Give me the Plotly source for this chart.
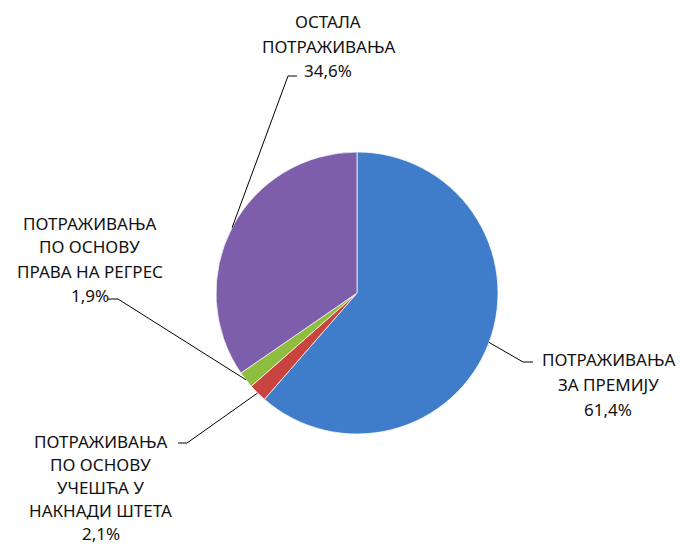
import math
import plotly.graph_objects as go

labels = [["ПОТРАЖИВАЊА", "ЗА ПРЕМИЈУ"],
          ["ПОТРАЖИВАЊА", "ПО ОСНОВУ", "УЧЕШЋА У", "НАКНАДИ ШТЕТА"],
          ["ПОТРАЖИВАЊА", "ПО ОСНОВУ", "ПРАВА НА РЕГРЕС"],
          ["ОСТАЛА", "ПОТРАЖИВАЊА"]]
values = [61.4, 2.1, 1.9, 34.6]
value_text = ["61,4%", "2,1%", "1,9%", "34,6%"]
colors = ["#3F7DCB", "#C9443E", "#8FBE3E", "#7D5EAA"]

W, H = 693, 546
cx, cy, r = 357, 293, 141

# label block centres (px), line gaps and leader-line elbow / tail (px)
label_pos = [(608, 384), (101, 487), (90, 259), (328, 46)]
line_gaps = [25, 23, 24, 24]
elbows = [((523, 362), (533, 362)),
          ((187, 443), (178, 443)),
          ((118, 299), (108, 299)),
          ((288, 76), (297, 76))]

fig = go.Figure()
fig.add_trace(go.Pie(
    labels=[" ".join(l) for l in labels], values=values,
    sort=False, direction="clockwise", rotation=0,
    marker=dict(colors=colors, line=dict(color="rgba(255,255,255,0.7)", width=1)),
    textinfo="none", hoverinfo="label+percent", showlegend=False,
    domain=dict(x=[(cx - r) / W, (cx + r) / W], y=[1 - (cy + r) / H, 1 - (cy - r) / H]),
))

def px2p(x, y):
    return x / W, 1 - y / H

total = sum(values)
cum = 0
shapes = []
annotations = []
for i, v in enumerate(values):
    mid = (cum + v / 2) / total * 2 * math.pi
    cum += v
    ax = cx + r * math.sin(mid)
    ay = cy - r * math.cos(mid)
    (ex, ey), (tx, ty) = elbows[i]
    p0 = px2p(ax, ay); p1 = px2p(ex, ey); p2 = px2p(tx, ty)
    shapes.append(dict(type="path", xref="paper", yref="paper",
                       path=f"M {p0[0]},{p0[1]} L {p1[0]},{p1[1]} L {p2[0]},{p2[1]}",
                       line=dict(color="black", width=1)))
    lines = labels[i] + [value_text[i]]
    n = len(lines)
    bx, by = label_pos[i]
    for j, t in enumerate(lines):
        lx, ly = px2p(bx, by + (j - (n - 1) / 2) * line_gaps[i])
        annotations.append(dict(x=lx, y=ly, xref="paper", yref="paper",
                                text=t, showarrow=False,
                                xanchor="center", yanchor="middle",
                                font=dict(family="Noto Sans", size=17, color="#111")))

fig.update_layout(width=W, height=H, margin=dict(l=0, r=0, t=0, b=0),
                  paper_bgcolor="white", plot_bgcolor="white",
                  shapes=shapes, annotations=annotations)
fig.write_html("out.html")
